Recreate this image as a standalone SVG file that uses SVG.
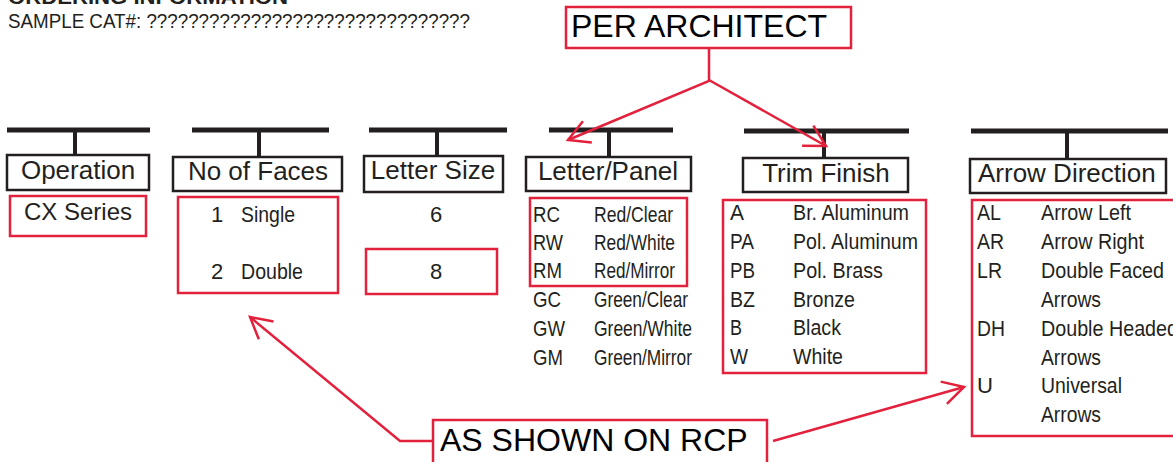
<svg xmlns="http://www.w3.org/2000/svg" width="1173" height="462" viewBox="0 0 1173 462">
<style>
text{font-family:"Liberation Sans",Arial,sans-serif;fill:#231f20}
.hd{font-size:26px}
.it{font-size:22px}
.c{text-anchor:middle}
.bar{fill:#231f20}
.hbox{fill:#fff;stroke:#231f20;stroke-width:2.5}
.rbox{fill:none;stroke:#e4213d;stroke-width:2.5}
.call{font-size:32px;fill:#000}
.conn path{fill:none;stroke:#e4213d;stroke-width:2.5}
</style>
<defs>
<marker id="oa" markerUnits="userSpaceOnUse" viewBox="-26 -15 30 30" refX="0" refY="0" markerWidth="30" markerHeight="30" orient="auto">
<path d="M-21,-11.5 L0,0 L-21,11.5" fill="none" stroke="#e4213d" stroke-width="2.5"/>
</marker>
</defs>
<rect width="1173" height="462" fill="#fff"/>
<g id="title">
<text x="8" y="4" font-size="20" font-weight="bold" textLength="280" lengthAdjust="spacingAndGlyphs">ORDERING INFORMATION</text>
<text x="8" y="28" font-size="19.5" textLength="462" lengthAdjust="spacingAndGlyphs">SAMPLE CAT#: ???????????????????????????????</text>
</g>
<g id="per-architect">
<rect class="rbox" x="566" y="7" width="285" height="41" fill="#fff"/>
<text class="call" x="571" y="37">PER ARCHITECT</text>
</g>
<g id="operation">
<rect class="bar" x="7" y="127.5" width="143" height="5"/>
<rect class="bar" x="73" y="130" width="4" height="25"/>
<rect class="hbox" x="7" y="155" width="142" height="35"/>
<text class="hd c" x="78" y="179">Operation</text>
<rect class="rbox" x="10" y="196" width="136" height="40"/>
<text class="c" x="78" y="220" font-size="24">CX Series</text>
</g>
<g id="faces">
<rect class="bar" x="192" y="127.5" width="137" height="5"/>
<rect class="bar" x="257" y="130" width="4" height="27"/>
<rect class="hbox" x="173" y="157" width="169" height="34"/>
<text class="hd c" x="258" y="180">No of Faces</text>
<rect class="rbox" x="178" y="197" width="160" height="96"/>
<text class="it" x="211" y="222">1</text>
<text class="it" x="241" y="222" textLength="54" lengthAdjust="spacingAndGlyphs">Single</text>
<text class="it" x="211" y="279">2</text>
<text class="it" x="241" y="279" textLength="62" lengthAdjust="spacingAndGlyphs">Double</text>
</g>
<g id="letter-size">
<rect class="bar" x="369" y="127.5" width="138" height="5"/>
<rect class="bar" x="435" y="130" width="4" height="26"/>
<rect class="hbox" x="364" y="156" width="139" height="36"/>
<text class="hd c" x="433" y="179">Letter Size</text>
<text class="it c" x="436" y="222">6</text>
<rect class="rbox" x="366" y="249" width="131" height="45"/>
<text class="it c" x="436" y="279">8</text>
</g>
<g id="letter-panel">
<rect class="bar" x="549" y="127.5" width="124" height="5"/>
<rect class="bar" x="607" y="130" width="4" height="27"/>
<rect class="hbox" x="526" y="157" width="165" height="34"/>
<text class="hd c" x="608" y="180">Letter/Panel</text>
<rect class="rbox" x="530" y="198" width="157" height="88"/>
<text class="it" x="533" y="222" textLength="27" lengthAdjust="spacingAndGlyphs">RC</text>
<text class="it" x="594" y="222" textLength="79" lengthAdjust="spacingAndGlyphs">Red/Clear</text>
<text class="it" x="533" y="250" textLength="30" lengthAdjust="spacingAndGlyphs">RW</text>
<text class="it" x="594" y="250" textLength="81" lengthAdjust="spacingAndGlyphs">Red/White</text>
<text class="it" x="533" y="278" textLength="29" lengthAdjust="spacingAndGlyphs">RM</text>
<text class="it" x="594" y="278" textLength="81" lengthAdjust="spacingAndGlyphs">Red/Mirror</text>
<text class="it" x="533" y="307" textLength="28" lengthAdjust="spacingAndGlyphs">GC</text>
<text class="it" x="594" y="307" textLength="94" lengthAdjust="spacingAndGlyphs">Green/Clear</text>
<text class="it" x="533" y="336" textLength="32" lengthAdjust="spacingAndGlyphs">GW</text>
<text class="it" x="594" y="336" textLength="98" lengthAdjust="spacingAndGlyphs">Green/White</text>
<text class="it" x="533" y="365" textLength="30" lengthAdjust="spacingAndGlyphs">GM</text>
<text class="it" x="594" y="365" textLength="98" lengthAdjust="spacingAndGlyphs">Green/Mirror</text>
</g>
<g id="trim-finish">
<rect class="bar" x="744" y="128.5" width="165" height="5"/>
<rect class="bar" x="822" y="131" width="4" height="27"/>
<rect class="hbox" x="743" y="158" width="165" height="34"/>
<text class="hd c" x="826" y="182">Trim Finish</text>
<rect class="rbox" x="723" y="200" width="203" height="173"/>
<text class="it" x="730" y="220" textLength="14" lengthAdjust="spacingAndGlyphs">A</text>
<text class="it" x="793" y="220" textLength="116" lengthAdjust="spacingAndGlyphs">Br. Aluminum</text>
<text class="it" x="730" y="249" textLength="24" lengthAdjust="spacingAndGlyphs">PA</text>
<text class="it" x="793" y="249" textLength="125" lengthAdjust="spacingAndGlyphs">Pol. Aluminum</text>
<text class="it" x="730" y="278" textLength="25" lengthAdjust="spacingAndGlyphs">PB</text>
<text class="it" x="793" y="278" textLength="90" lengthAdjust="spacingAndGlyphs">Pol. Brass</text>
<text class="it" x="730" y="307" textLength="25" lengthAdjust="spacingAndGlyphs">BZ</text>
<text class="it" x="793" y="307" textLength="62" lengthAdjust="spacingAndGlyphs">Bronze</text>
<text class="it" x="730" y="335" textLength="12" lengthAdjust="spacingAndGlyphs">B</text>
<text class="it" x="793" y="335" textLength="48" lengthAdjust="spacingAndGlyphs">Black</text>
<text class="it" x="730" y="364" textLength="18" lengthAdjust="spacingAndGlyphs">W</text>
<text class="it" x="793" y="364" textLength="50" lengthAdjust="spacingAndGlyphs">White</text>
</g>
<g id="arrow-direction">
<rect class="bar" x="971" y="128.5" width="197" height="5"/>
<rect class="bar" x="1065" y="131" width="4" height="28"/>
<rect class="hbox" x="970" y="159" width="196" height="34"/>
<text class="hd" x="978" y="182">Arrow Direction</text>
<rect class="rbox" x="972" y="200" width="210" height="236"/>
<text class="it" x="977" y="220" textLength="24" lengthAdjust="spacingAndGlyphs">AL</text>
<text class="it" x="1041" y="220" textLength="90" lengthAdjust="spacingAndGlyphs">Arrow Left</text>
<text class="it" x="977" y="249" textLength="27" lengthAdjust="spacingAndGlyphs">AR</text>
<text class="it" x="1041" y="249" textLength="103" lengthAdjust="spacingAndGlyphs">Arrow Right</text>
<text class="it" x="977" y="278" textLength="25" lengthAdjust="spacingAndGlyphs">LR</text>
<text class="it" x="1041" y="278" textLength="123" lengthAdjust="spacingAndGlyphs">Double Faced</text>
<text class="it" x="1041" y="307" textLength="60" lengthAdjust="spacingAndGlyphs">Arrows</text>
<text class="it" x="977" y="336" textLength="28" lengthAdjust="spacingAndGlyphs">DH</text>
<text class="it" x="1041" y="336" textLength="137" lengthAdjust="spacingAndGlyphs">Double Headed</text>
<text class="it" x="1041" y="365" textLength="60" lengthAdjust="spacingAndGlyphs">Arrows</text>
<text class="it" x="977" y="393" textLength="16" lengthAdjust="spacingAndGlyphs">U</text>
<text class="it" x="1041" y="393" textLength="81" lengthAdjust="spacingAndGlyphs">Universal</text>
<text class="it" x="1041" y="422" textLength="60" lengthAdjust="spacingAndGlyphs">Arrows</text>
</g>
<g id="as-shown">
<rect class="rbox" x="433" y="420" width="334" height="50" fill="#fff"/>
<text class="call" x="440" y="451">AS SHOWN ON RCP</text>
</g>
<g id="connectors" class="conn">
<path d="M709,48 V81 L568,140" marker-end="url(#oa)"/>
<path d="M709,80 L826,146" marker-end="url(#oa)"/>
<path d="M433,441 H400 L250,317" marker-end="url(#oa)"/>
<path d="M773,441 L964,387" marker-end="url(#oa)"/>
</g>
</svg>
